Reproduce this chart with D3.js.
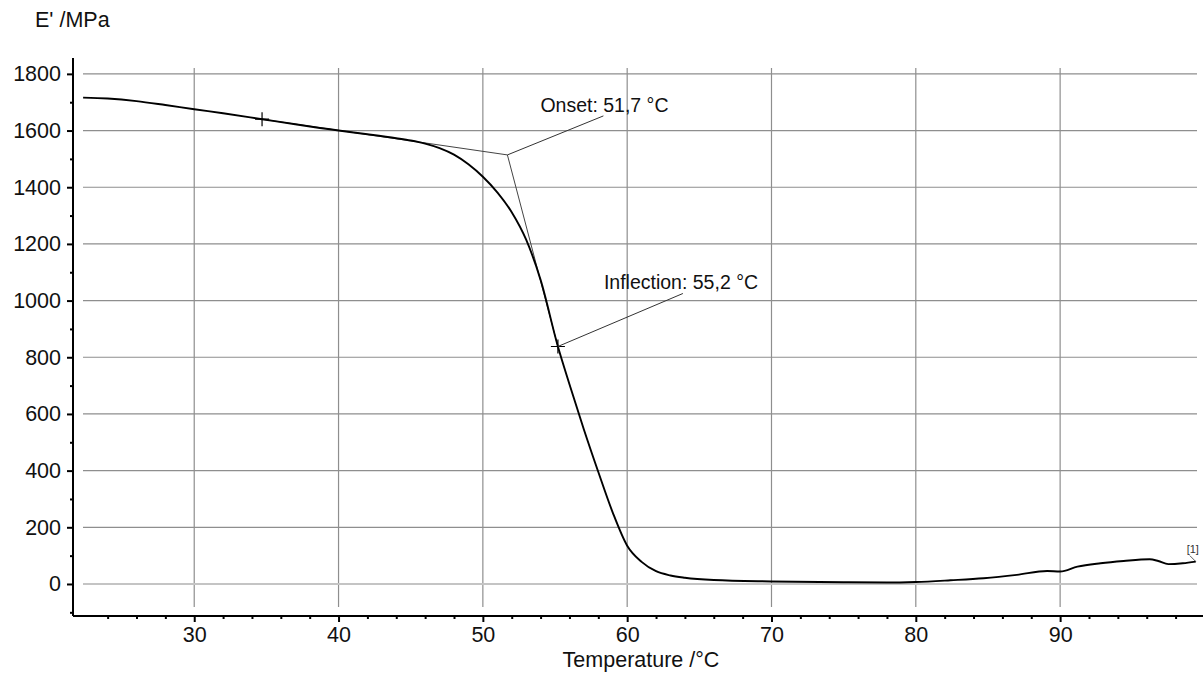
<!DOCTYPE html>
<html>
<head>
<meta charset="utf-8">
<script src="https://cdn.jsdelivr.net/npm/d3@7"></script>
<style>
  html, body { margin: 0; padding: 0; background: #fff; }
  svg { display: block; font-family: "Liberation Sans", Arial, sans-serif; }
</style>
</head>
<body>
<svg id="chart" width="1203" height="675"></svg>
<script>
// ---- data ----
const temperature = [22.3, 24, 26, 28, 30, 32, 34.7, 37, 40, 42, 44, 45, 46, 47, 48, 49, 50, 51, 52, 53, 54, 55.2, 56, 57, 58, 59, 60, 61, 62, 63, 64, 66, 70, 75, 78, 80, 82.4, 84.7, 87, 89.1, 90, 91.2, 92.8, 94.4, 96.2, 96.8, 97.5, 98.5, 99.4];
const modulus =     [1716, 1713, 1704, 1690, 1675, 1661, 1640, 1622, 1600, 1587, 1573, 1565, 1554, 1538, 1515, 1481, 1437, 1382, 1312, 1215, 1073, 838, 705, 545, 395, 252, 135, 78, 45, 30, 22, 14, 9, 6, 5, 7, 13, 20, 32, 46, 44, 61, 73, 81, 87, 81, 70, 73, 79];
const xTickLabels = [30, 40, 50, 60, 70, 80, 90];
const yTickLabels = [0, 200, 400, 600, 800, 1000, 1200, 1400, 1600, 1800];
const baselineStart = [34.7, 1640];
const onsetPoint = [51.7, 1514];
const inflectionPoint = [55.2, 838];
const onsetLabel = "Onset: 51,7 °C";
const inflectionLabel = "Inflection: 55,2 °C";
const yTitle = "E' /MPa";
const xTitle = "Temperature /°C";
const curveTag = "[1]";

// ---- layout ----
const svg = d3.select("#chart");
const x = d3.scaleLinear().domain([21.6, 99.9]).range([73, 1203]);
const y = d3.scaleLinear().domain([-113, 1856]).range([616, 58]);
const gridX0 = 83, gridX1 = 1197, gridY0 = 68, gridY1 = 607;

// grid
const grid = svg.append("g");
grid.selectAll("line.v").data(xTickLabels).enter().append("line")
  .attr("x1", d => x(d)).attr("x2", d => x(d))
  .attr("y1", gridY0).attr("y2", gridY1)
  .attr("stroke", "#8e8e8e").attr("stroke-width", 1.2);
grid.selectAll("line.h").data(yTickLabels).enter().append("line")
  .attr("x1", gridX0).attr("x2", gridX1)
  .attr("y1", d => y(d)).attr("y2", d => y(d))
  .attr("stroke", d => d === 0 ? "#c4c4c4" : "#8e8e8e")
  .attr("stroke-width", d => d === 0 ? 2.2 : 1.2);

// axes
const xMinor = d3.range(24, 100, 2).filter(d => xTickLabels.indexOf(d) < 0);
const yMinor = d3.range(-100, 1800, 200);
const xAxis = d3.axisBottom(x).tickValues(xTickLabels).tickSize(6).tickPadding(5).tickFormat(d3.format("d"));
const xAxisMinor = d3.axisBottom(x).tickValues(xMinor).tickSize(3).tickFormat("");
const yAxis = d3.axisLeft(y).tickValues(yTickLabels).tickSize(6).tickPadding(6).tickFormat(d3.format("d"));
const yAxisMinor = d3.axisLeft(y).tickValues(yMinor).tickSize(3).tickFormat("");

function styleAxis(g) {
  g.select(".domain").attr("stroke", "#000").attr("stroke-width", 2);
  g.selectAll(".tick line").attr("stroke", "#000").attr("stroke-width", 2);
  g.selectAll(".tick text").attr("fill", "#111").style("font-size", "21.5px")
    .style("font-family", "'Liberation Sans', Arial, sans-serif");
}
svg.append("g").attr("transform", "translate(0,616)").call(xAxisMinor).call(styleAxis).select(".domain").remove();
svg.append("g").attr("transform", "translate(0,616)").call(xAxis).call(styleAxis)
  .select(".domain").attr("d", "M73,0H1203");
svg.append("g").attr("transform", "translate(73,0)").call(yAxisMinor).call(styleAxis).select(".domain").remove();
svg.append("g").attr("transform", "translate(73,0)").call(yAxis).call(styleAxis)
  .select(".domain").attr("d", "M0,58V616");

// titles
svg.append("text").attr("x", 35).attr("y", 27).attr("fill", "#111")
  .style("font-size", "21.5px").text(yTitle);
svg.append("text").attr("x", 641).attr("y", 667).attr("text-anchor", "middle").attr("fill", "#111")
  .style("font-size", "21.5px").text(xTitle);

// tangent lines
const thin = {stroke: "#444", w: 1};
svg.append("line")
  .attr("x1", x(baselineStart[0])).attr("y1", y(baselineStart[1]))
  .attr("x2", x(onsetPoint[0])).attr("y2", y(onsetPoint[1]))
  .attr("stroke", thin.stroke).attr("stroke-width", thin.w);
svg.append("line")
  .attr("x1", x(onsetPoint[0])).attr("y1", y(onsetPoint[1]))
  .attr("x2", x(inflectionPoint[0])).attr("y2", y(inflectionPoint[1]))
  .attr("stroke", thin.stroke).attr("stroke-width", thin.w);

// curve
const pts = temperature.map((t, i) => [t, modulus[i]]);
const line = d3.line().x(d => x(d[0])).y(d => y(d[1])).curve(d3.curveMonotoneX);
svg.append("path").datum(pts).attr("d", line)
  .attr("fill", "none").attr("stroke", "#000").attr("stroke-width", 1.9)
  .attr("stroke-linejoin", "round");

// crosshair markers
function cross(p) {
  const cx = x(p[0]), cy = y(p[1]), s = 7;
  svg.append("path").attr("d", `M${cx - s},${cy}H${cx + s}M${cx},${cy - s}V${cy + s}`)
    .attr("stroke", "#000").attr("stroke-width", 1.2);
}
cross(baselineStart);
cross(inflectionPoint);

// annotations
function annotate(p, label, dx, dy, tx, ty) {
  const px = x(p[0]), py = y(p[1]);
  svg.append("line").attr("x1", px).attr("y1", py).attr("x2", px + dx).attr("y2", py + dy)
    .attr("stroke", "#333").attr("stroke-width", 1);
  svg.append("text").attr("x", px + tx).attr("y", py + ty).attr("fill", "#111")
    .style("font-size", "19.5px").text(label);
}
annotate(onsetPoint, onsetLabel, 96, -39, 33, -43);
annotate(inflectionPoint, inflectionLabel, 125, -53, 46, -57);

// curve tag
const last = pts[pts.length - 1];
const lx = x(last[0]), ly = y(last[1]);
svg.append("line").attr("x1", lx - 6).attr("y1", ly - 6).attr("x2", lx).attr("y2", ly)
  .attr("stroke", "#333").attr("stroke-width", 0.8);
svg.append("text").attr("x", lx - 3).attr("y", ly - 9).attr("text-anchor", "middle")
  .attr("fill", "#333").style("font-size", "11px").text(curveTag);
</script>
</body>
</html>
